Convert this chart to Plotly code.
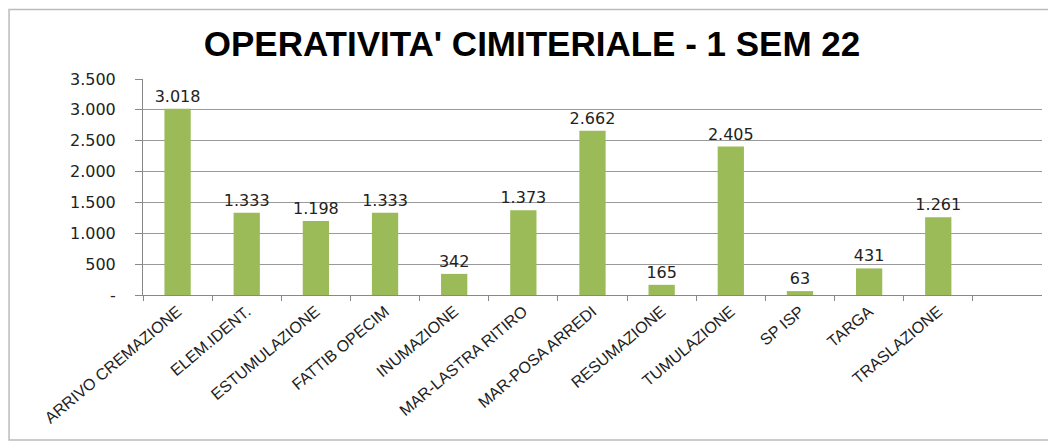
import plotly.graph_objects as go

categories = [
    "ARRIVO CREMAZIONE", "ELEM.IDENT.", "ESTUMULAZIONE", "FATTIB OPECIM",
    "INUMAZIONE", "MAR-LASTRA RITIRO", "MAR-POSA ARREDI", "RESUMAZIONE",
    "TUMULAZIONE", "SP ISP", "TARGA", "TRASLAZIONE",
]
values = [3018, 1333, 1198, 1333, 342, 1373, 2662, 165, 2405, 63, 431, 1261]

tick_vals = [0, 500, 1000, 1500, 2000, 2500, 3000, 3500]
tick_text = ["-", "500", "1.000", "1.500", "2.000", "2.500", "3.000", "3.500"]

fig = go.Figure()
fig.add_trace(
    go.Bar(
        x=categories,
        y=values,
        marker=dict(color="#9BBB59", line=dict(width=0)),
        width=0.38,
        texttemplate="%{y:,.0f}",
        textposition="outside",
        constraintext="none",
        textfont=dict(family="DejaVu Sans", size=16, color="#222222"),
        cliponaxis=False,
    )
)

# chart frame
fig.add_shape(
    type="rect", xref="paper", yref="paper",
    x0=-0.149, x1=1.009, y0=-0.671, y1=1.322,
    line=dict(color="#BBBBBB", width=1.5),
)

# page body adds an 8px offset, so the figure is a bit smaller
fig.update_layout(
    width=1048,
    height=435,
    margin=dict(l=135, r=14, t=71, b=148),
    paper_bgcolor="white",
    plot_bgcolor="white",
    separators=",.",
    showlegend=False,
    title=dict(
        text="<b>OPERATIVITA' CIMITERIALE - 1 SEM 22</b>",
        x=0.5, xanchor="center",
        y=0.918, yanchor="middle", yref="container",
        font=dict(family="Liberation Sans", size=35, color="black"),
    ),
)
fig.update_xaxes(
    range=[-0.5, 12.5],
    tickangle=-40,
    tickfont=dict(family="Liberation Sans", size=16, color="#222222"),
    showline=True, linecolor="#888888", linewidth=1,
    ticks="outside", tickson="boundaries", ticklen=5, tickcolor="#888888",
    showgrid=False,
)
fig.update_yaxes(
    range=[0, 3500],
    tickvals=tick_vals,
    ticktext=tick_text,
    tickfont=dict(family="DejaVu Sans", size=16, color="#222222"),
    ticklabelstandoff=16,
    showline=True, linecolor="#888888", linewidth=1,
    ticks="outside", ticklen=7, tickcolor="#888888",
    showgrid=True, gridcolor="#999999", gridwidth=1,
    zeroline=False,
)

fig.write_html("out.html")
